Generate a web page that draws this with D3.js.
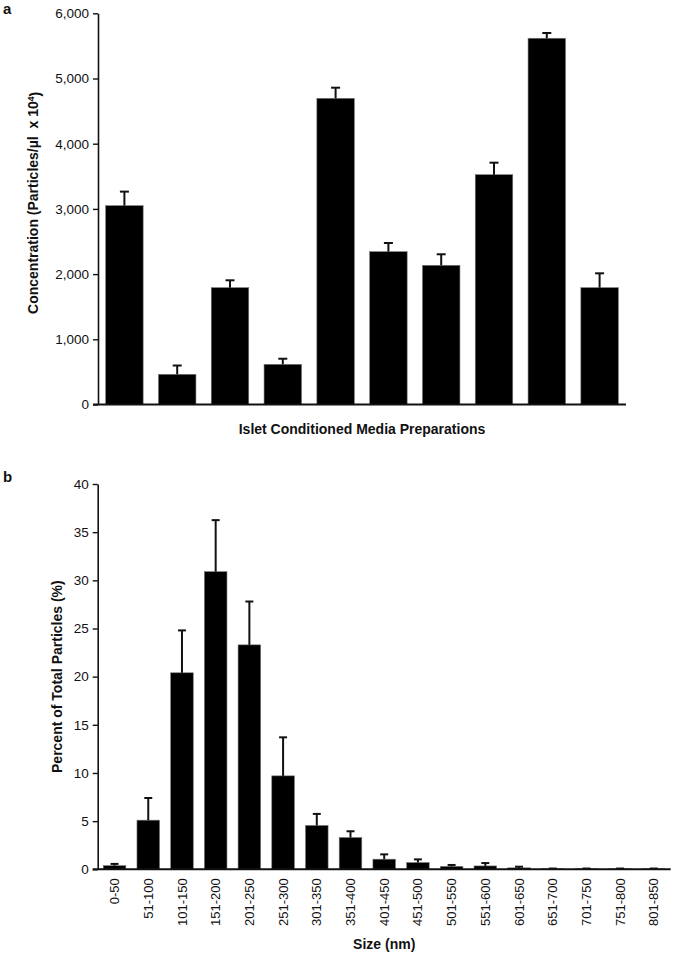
<!DOCTYPE html>
<html>
<head>
<meta charset="utf-8">
<script src="https://cdn.jsdelivr.net/npm/d3@7"></script>
<style>
  body { margin: 0; background: #fff; }
  svg { display: block; }
  text { font-family: "Liberation Sans", Arial, sans-serif; fill: #111; }
</style>
</head>
<body>
<svg id="chart" width="675" height="954"></svg>
<script>
// ---- Panel a data ----
const prepLabels = ["1","2","3","4","5","6","7","8","9","10"];
const concentration = [3050, 463, 1792, 616, 4696, 2344, 2135, 3525, 5617, 1792];
const concentrationErr = [215, 135, 113, 86, 163, 133, 169, 184, 81, 220];
const concTicks = [0, 1000, 2000, 3000, 4000, 5000, 6000];

// ---- Panel b data ----
const sizeBins = ["0-50","51-100","101-150","151-200","201-250","251-300","301-350","351-400","401-450","451-500","501-550","551-600","601-650","651-700","701-750","751-800","801-850"];
const percentParticles = [0.38, 5.1, 20.4, 30.9, 23.3, 9.7, 4.55, 3.3, 1.05, 0.7, 0.3, 0.35, 0.15, 0.05, 0.05, 0.05, 0.05];
const percentErr = [0.18, 2.3, 4.4, 5.35, 4.5, 4.0, 1.2, 0.65, 0.5, 0.33, 0.15, 0.3, 0.12, 0.03, 0.03, 0.03, 0.03];
const percentTicks = [0, 5, 10, 15, 20, 25, 30, 35, 40];

const svg = d3.select("#chart");

function drawPanel(opts) {
  const g = svg.append("g");
  const x = d3.scaleBand().domain(opts.cats).range([opts.x0, opts.x1])
    .paddingInner(opts.padIn).paddingOuter(opts.padIn / 2);
  const y = d3.scaleLinear().domain(opts.yDomain).range([opts.y0, opts.y1]);

  // bars
  g.selectAll("rect.bar").data(opts.cats).join("rect")
    .attr("class", "bar")
    .attr("x", d => x(d))
    .attr("width", x.bandwidth())
    .attr("y", (d, i) => y(opts.values[i]))
    .attr("height", (d, i) => y(0) - y(opts.values[i]))
    .attr("fill", "#000")
    .attr("stroke", "#777")
    .attr("stroke-width", 0.6);

  // error bars (upper only)
  const eg = g.append("g").attr("stroke", "#111").attr("stroke-width", 2);
  opts.cats.forEach((d, i) => {
    const cx = x(d) + x.bandwidth() / 2;
    const top = y(opts.values[i] + opts.errs[i]);
    eg.append("line").attr("x1", cx).attr("x2", cx)
      .attr("y1", y(opts.values[i])).attr("y2", top);
    eg.append("line").attr("x1", cx - opts.cap / 2).attr("x2", cx + opts.cap / 2)
      .attr("y1", top).attr("y2", top);
  });

  // y axis
  const yAxis = d3.axisLeft(y).tickValues(opts.ticks).tickFormat(opts.fmt)
    .tickSize(5).tickPadding(4).tickSizeOuter(0);
  const ya = g.append("g").attr("transform", `translate(${opts.x0},0)`).call(yAxis);
  ya.select(".domain").attr("stroke", "#111").attr("stroke-width", 1.6);
  ya.selectAll(".tick line").attr("stroke", "#111").attr("stroke-width", 1.4);
  ya.selectAll(".tick text").style("font-size", opts.tickFont + "px")
    .style("font-family", '"Liberation Sans", Arial, sans-serif').attr("fill", "#111");

  // x axis
  const xAxis = d3.axisBottom(x).tickSize(0).tickSizeOuter(0).tickPadding(8);
  const xa = g.append("g").attr("transform", `translate(0,${y(0)})`).call(xAxis);
  xa.select(".domain").attr("stroke", "#111").attr("stroke-width", 2)
    .attr("d", `M${opts.x0 - 5},0H${opts.x1}`);
  if (opts.showXLabels) {
    xa.selectAll(".tick text")
      .style("font-size", "13px")
      .style("font-family", '"Liberation Sans", Arial, sans-serif')
      .attr("fill", "#111")
      .attr("transform", "rotate(-90)")
      .attr("text-anchor", "end")
      .attr("x", -9).attr("y", 0).attr("dy", "0.35em");
  } else {
    xa.selectAll(".tick text").remove();
  }

  // axis titles
  const yt = g.append("text")
    .attr("transform", `translate(${opts.yTitleX},${(opts.y0 + opts.y1) / 2 + opts.yTitleShift}) rotate(-90)`)
    .attr("text-anchor", "middle")
    .style("font-size", "14px").style("font-weight", "bold");
  opts.yTitle(yt);

  g.append("text")
    .attr("x", (opts.x0 + opts.x1) / 2).attr("y", opts.xTitleY)
    .attr("text-anchor", "middle")
    .style("font-size", "14px").style("font-weight", "bold")
    .text(opts.xTitle);

  g.append("text").attr("x", 3).attr("y", opts.letterY)
    .style("font-size", "15px").style("font-weight", "bold")
    .text(opts.letter);
}

drawPanel({
  cats: prepLabels, values: concentration, errs: concentrationErr,
  ticks: concTicks, yDomain: [0, 6000], fmt: d3.format(","),
  x0: 98, x1: 626, y0: 404.5, y1: 13.3, padIn: 0.29, cap: 9, tickFont: 13.5,
  showXLabels: false,
  yTitleX: 38, yTitleShift: -6,
  yTitle: t => {
    t.append("tspan").text("Concentration (Particles/µl\u00A0 x 10");
    t.append("tspan").attr("dy", "-0.45em").style("font-size", "8.5px").text("4");
    t.append("tspan").attr("dy", "0.45em").text(")");
  },
  xTitle: "Islet Conditioned Media Preparations", xTitleY: 434,
  letter: "a", letterY: 14
});

drawPanel({
  cats: sizeBins, values: percentParticles, errs: percentErr,
  ticks: percentTicks, yDomain: [0, 40], fmt: d3.format("d"),
  x0: 97.7, x1: 670.7, y0: 869.3, y1: 484, padIn: 0.33, cap: 8, tickFont: 13.5,
  showXLabels: true,
  yTitleX: 62, yTitleShift: 0,
  yTitle: t => t.text("Percent of Total Particles (%)"),
  xTitle: "Size (nm)", xTitleY: 949,
  letter: "b", letterY: 482
});
</script>
</body>
</html>
